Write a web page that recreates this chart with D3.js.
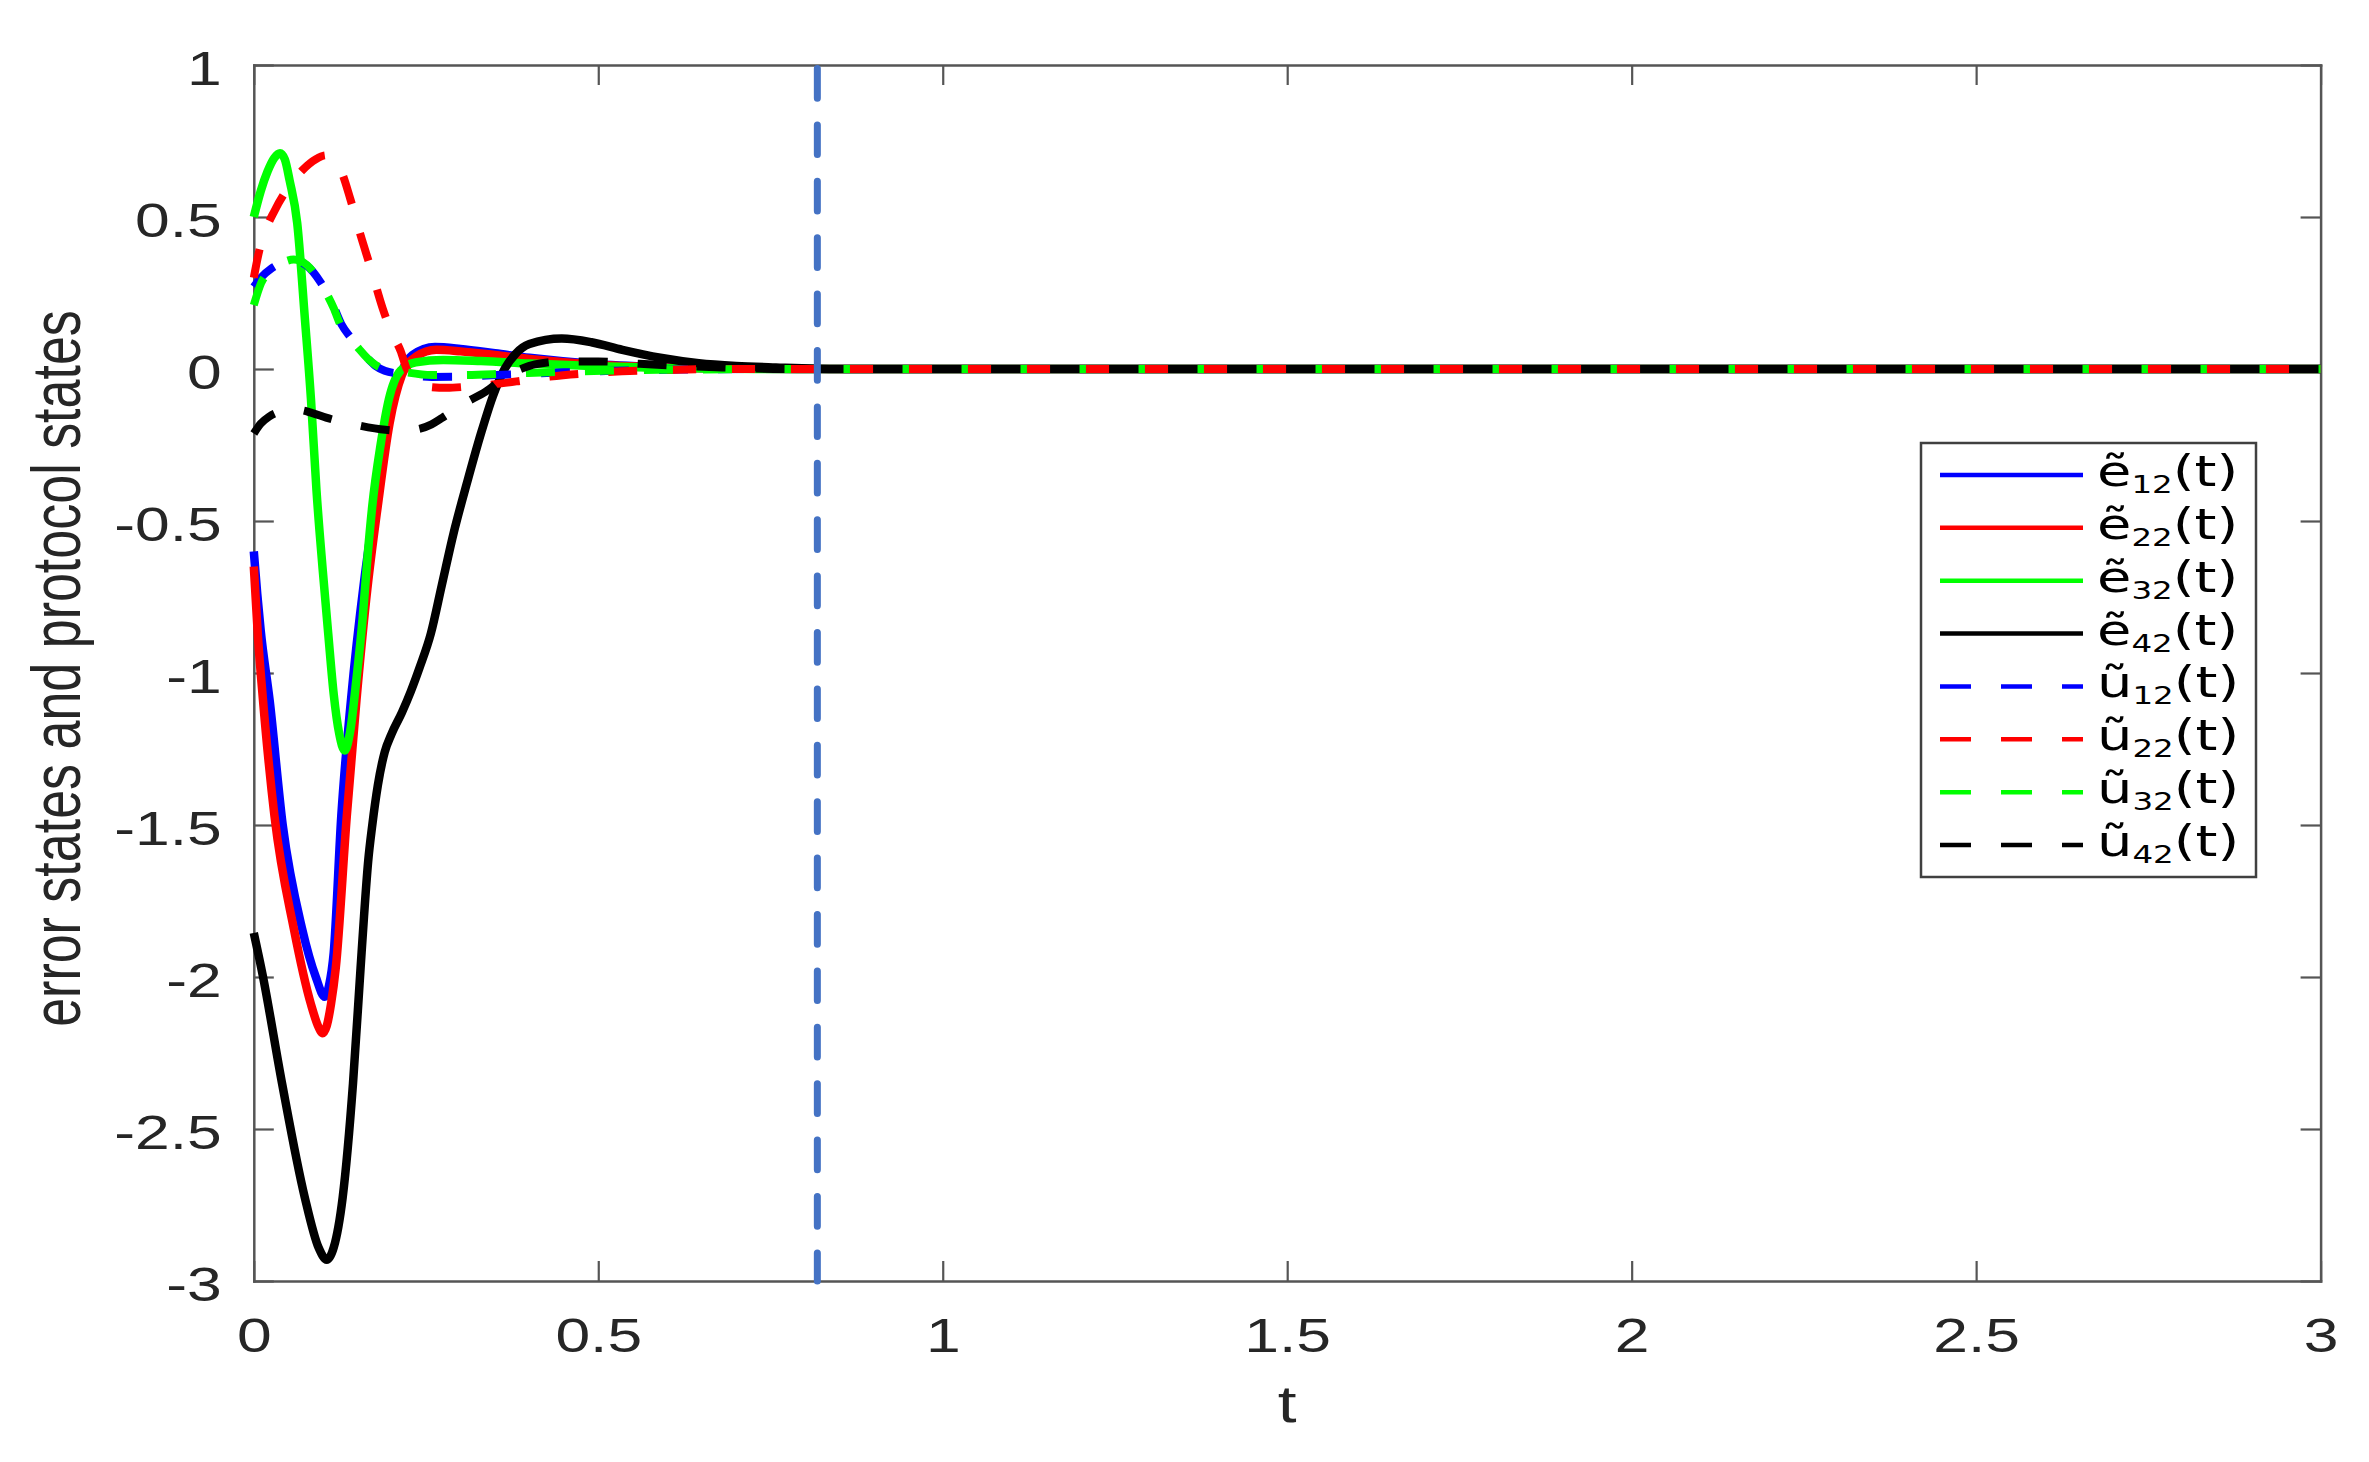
<!DOCTYPE html>
<html><head><meta charset="utf-8">
<script src="https://cdn.jsdelivr.net/npm/d3@7"></script>
<style>html,body{margin:0;padding:0;background:#fff;} svg{display:block;}</style>
</head><body>
<svg id="chart" width="2369" height="1462"></svg>
<script>
// ---------- data ----------
const xTicks = [0, 0.5, 1, 1.5, 2, 2.5, 3];
const yTicks = [-3, -2.5, -2, -1.5, -1, -0.5, 0, 0.5, 1];
const xLabel = "t";
const yLabel = "error states and protocol states";
const switchTime = 0.818;

const e12 = [[0,-0.60],[0.005,-0.74],[0.01,-0.86],[0.023,-1.09],[0.042,-1.50],[0.07,-1.84],[0.09,-2.0],[0.103,-2.065],[0.109,-2.03],[0.116,-1.92],[0.127,-1.47],[0.141,-1.09],[0.16,-0.70],[0.177,-0.43],[0.195,-0.18],[0.213,-0.02],[0.23,0.045],[0.263,0.072],[0.3,0.066],[0.35,0.052],[0.4,0.037],[0.5,0.016],[0.6,0.006],[0.7,0.002],[0.8,0],[3,0]];
const e22 = [[0,-0.65],[0.006,-0.88],[0.013,-1.08],[0.03,-1.47],[0.058,-1.84],[0.083,-2.09],[0.094,-2.165],[0.1,-2.185],[0.106,-2.16],[0.112,-2.09],[0.119,-1.97],[0.135,-1.47],[0.149,-1.09],[0.165,-0.72],[0.18,-0.45],[0.197,-0.18],[0.215,-0.02],[0.235,0.04],[0.265,0.063],[0.3,0.058],[0.35,0.046],[0.4,0.033],[0.5,0.014],[0.6,0.005],[0.7,0.002],[0.8,0],[3,0]];
const e32 = [[0,0.50],[0.01,0.585],[0.02,0.65],[0.03,0.695],[0.038,0.71],[0.045,0.69],[0.052,0.62],[0.063,0.48],[0.074,0.17],[0.083,-0.10],[0.091,-0.40],[0.1,-0.66],[0.108,-0.87],[0.116,-1.07],[0.124,-1.2],[0.132,-1.255],[0.14,-1.19],[0.149,-1.02],[0.158,-0.82],[0.165,-0.62],[0.172,-0.45],[0.184,-0.25],[0.196,-0.10],[0.213,-0.005],[0.235,0.022],[0.275,0.03],[0.33,0.026],[0.4,0.018],[0.5,0.009],[0.6,0.003],[0.75,0],[3,0]];
const e42 = [[0,-1.855],[0.013,-1.995],[0.041,-2.35],[0.074,-2.725],[0.094,-2.89],[0.106,-2.93],[0.116,-2.89],[0.129,-2.725],[0.144,-2.35],[0.155,-1.97],[0.16,-1.80],[0.166,-1.62],[0.172,-1.50],[0.18,-1.37],[0.19,-1.26],[0.2,-1.20],[0.215,-1.13],[0.228,-1.06],[0.241,-0.98],[0.257,-0.87],[0.273,-0.71],[0.29,-0.54],[0.31,-0.37],[0.33,-0.21],[0.347,-0.09],[0.364,0.0],[0.38,0.05],[0.40,0.082],[0.447,0.10],[0.49,0.088],[0.535,0.063],[0.59,0.037],[0.646,0.019],[0.7,0.01],[0.758,0.005],[0.85,0],[3,0]];
const u12 = [[0,0.27],[0.01,0.30],[0.025,0.33],[0.04,0.348],[0.058,0.358],[0.077,0.34],[0.097,0.285],[0.116,0.205],[0.127,0.148],[0.14,0.105],[0.152,0.07],[0.165,0.036],[0.177,0.01],[0.19,-0.006],[0.213,-0.016],[0.258,-0.026],[0.3,-0.025],[0.37,-0.018],[0.45,-0.011],[0.52,-0.006],[0.62,-0.002],[0.75,0],[3,0]];
const u22 = [[0,0.30],[0.008,0.39],[0.016,0.45],[0.03,0.52],[0.048,0.59],[0.071,0.655],[0.09,0.69],[0.105,0.703],[0.118,0.685],[0.127,0.65],[0.14,0.56],[0.155,0.44],[0.17,0.33],[0.187,0.20],[0.2,0.12],[0.213,0.06],[0.222,0.0],[0.235,-0.04],[0.252,-0.058],[0.28,-0.062],[0.31,-0.058],[0.35,-0.05],[0.39,-0.038],[0.43,-0.025],[0.5,-0.012],[0.6,-0.003],[0.7,0],[3,0]];
const u32 = [[0,0.21],[0.0105,0.282],[0.025,0.325],[0.038,0.345],[0.058,0.36],[0.077,0.342],[0.097,0.282],[0.116,0.20],[0.127,0.139],[0.14,0.10],[0.152,0.068],[0.165,0.035],[0.177,0.013],[0.19,0.0],[0.213,-0.008],[0.258,-0.02],[0.3,-0.02],[0.37,-0.015],[0.45,-0.009],[0.52,-0.005],[0.62,-0.002],[0.75,0],[3,0]];
const u42 = [[0,-0.212],[0.01,-0.18],[0.022,-0.157],[0.04,-0.14],[0.066,-0.135],[0.085,-0.145],[0.105,-0.16],[0.149,-0.184],[0.191,-0.20],[0.215,-0.203],[0.238,-0.198],[0.258,-0.182],[0.274,-0.16],[0.308,-0.11],[0.336,-0.075],[0.369,-0.02],[0.39,0.002],[0.408,0.015],[0.45,0.025],[0.5,0.025],[0.56,0.017],[0.6,0.012],[0.68,0.005],[0.78,0],[3,0]];

const seriesData = [e12, e22, e32, e42, u12, u22, u32, u42];
const legendBase = ["ẽ","ẽ","ẽ","ẽ","ũ","ũ","ũ","ũ"];
const legendSub = ["12","22","32","42","12","22","32","42"];

// ---------- styles ----------
const seriesColors = ["#0000ff","#ff0000","#00ff00","#000000","#0000ff","#ff0000","#00ff00","#000000"];
const seriesDashed = [false,false,false,false,true,true,true,true];

const SX = 1.3; // horizontal stretch of the original figure's text
const L = 253.8, R = 2320.6, T = 65, B = 1281;
const tickFont = "'Liberation Sans', Arial, Helvetica, sans-serif";
const legFont = "'DejaVu Sans', Verdana, sans-serif";
const axisColor = "#555555";
const textColor = "#262626";

const svg = d3.select("#chart");
svg.append("rect").attr("width",2369).attr("height",1462).attr("fill","#fff");

const x = d3.scaleLinear().domain([0,3]).range([L,R]);
const y = d3.scaleLinear().domain([-3,1]).range([B,T]);
const fmt = d => String(d);

function styleAxis(g){
  g.attr("font-size",null).attr("font-family",null);
  g.select(".domain").attr("stroke",axisColor).attr("stroke-width",2.5).attr("stroke-linecap","square");
  g.selectAll(".tick line").attr("stroke",axisColor).attr("stroke-width",2.2);
}

// bottom axis
const gx = svg.append("g").attr("transform",`translate(0,${B})`)
  .call(d3.axisBottom(x).tickValues(xTicks).tickSizeInner(-20).tickSizeOuter(0).tickFormat(fmt));
styleAxis(gx);
gx.selectAll(".tick text").attr("y",71).attr("dy",0)
  .attr("font-size",48).attr("font-family",tickFont).attr("fill",textColor)
  .attr("transform",`scale(${SX},1)`);

// top axis
const gt = svg.append("g").attr("transform",`translate(0,${T})`)
  .call(d3.axisTop(x).tickValues(xTicks).tickSizeInner(-20).tickSizeOuter(0).tickFormat(""));
styleAxis(gt);

// left axis
const gy = svg.append("g").attr("transform",`translate(${L},0)`)
  .call(d3.axisLeft(y).tickValues(yTicks).tickSizeInner(-20).tickSizeOuter(0).tickFormat(fmt));
styleAxis(gy);
gy.selectAll(".tick text").attr("x",-32/SX).attr("y",19).attr("dy",0)
  .attr("font-size",48).attr("font-family",tickFont).attr("fill",textColor)
  .attr("transform",`scale(${SX},1)`);

// right axis
const gr = svg.append("g").attr("transform",`translate(${R},0)`)
  .call(d3.axisRight(y).tickValues(yTicks).tickSizeInner(-20).tickSizeOuter(0).tickFormat(""));
styleAxis(gr);

// axis labels
svg.append("g").attr("transform",`translate(${(L+R)/2},1422) scale(${SX},1)`)
  .append("text").attr("text-anchor","middle").attr("font-size",52)
  .attr("font-family",tickFont).attr("fill",textColor).text(xLabel);
svg.append("g").attr("transform",`translate(80,668.5) scale(${SX},1) rotate(-90)`)
  .append("text").attr("text-anchor","middle").attr("font-size",52)
  .attr("font-family",tickFont).attr("fill",textColor).text(yLabel);

// series
const line = d3.line().x(d=>x(d[0])).y(d=>y(d[1])).curve(d3.curveMonotoneX);
seriesData.forEach((data,i)=>{
  svg.append("path").datum(data).attr("d",line)
    .attr("fill","none").attr("stroke",seriesColors[i])
    .attr("stroke-width",seriesDashed[i] ? 8 : 8.5).attr("stroke-linejoin","round")
    .attr("stroke-linecap","butt")
    .attr("stroke-dasharray",seriesDashed[i] ? "29,30" : null);
});

// switching time vertical line
svg.append("line").attr("x1",x(switchTime)).attr("x2",x(switchTime))
  .attr("y1",y(1)+3.5).attr("y2",y(-3))
  .attr("stroke","#4472c4").attr("stroke-width",7)
  .attr("stroke-linecap","round").attr("stroke-dasharray","29.7,26.7");

// legend
const lg = svg.append("g");
lg.append("rect").attr("x",1921).attr("y",443).attr("width",335).attr("height",434)
  .attr("fill","#fff").attr("stroke","#404040").attr("stroke-width",2.5);
seriesData.forEach((data,i)=>{
  const ry = 475 + i*52.86;
  lg.append("line").attr("x1",1940).attr("x2",2083).attr("y1",ry).attr("y2",ry)
    .attr("stroke",seriesColors[i]).attr("stroke-width",4.5)
    .attr("stroke-dasharray",seriesDashed[i] ? "31,30" : null);
  const t = lg.append("g").attr("transform",`translate(2097,${ry+11}) scale(${SX},1)`)
    .append("text").attr("font-family",legFont).attr("fill","#000");
  t.append("tspan").attr("font-size",43).text(legendBase[i]);
  t.append("tspan").attr("font-size",25).attr("dy",7).text(legendSub[i]);
  t.append("tspan").attr("font-size",43).attr("dy",-7).text("(t)");
});
</script>
</body></html>
